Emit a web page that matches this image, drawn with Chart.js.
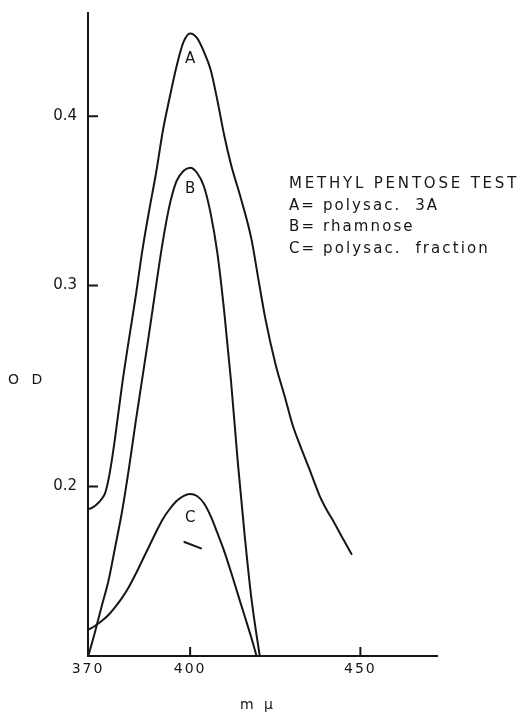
<!DOCTYPE html>
<html>
<head>
<meta charset="utf-8">
<title>Methyl pentose test</title>
<script src="https://cdn.jsdelivr.net/npm/chart.js@4.4.1/dist/chart.umd.min.js"></script>
<style>
  html, body { margin: 0; padding: 0; background: #fff; }
  canvas { display: block; }
</style>
</head>
<body>
<canvas id="odChart" width="520" height="717"></canvas>
<script>
// wavelength (m\u03bc) and optical density
const waveA = [370, 371, 372, 373, 374, 375, 376, 377, 378, 380, 382, 384, 386, 388, 390, 392, 394, 396, 398, 400,
               402, 404, 406, 408, 410, 412, 415, 418, 420, 422, 425, 428, 430, 432, 435, 438, 440, 442, 445, 447.4];
const odA = [0.190, 0.1905, 0.1914, 0.1927, 0.1945, 0.197, 0.203, 0.212, 0.223, 0.248, 0.271, 0.294, 0.320, 0.343, 0.365, 0.391, 0.412, 0.432, 0.448, 0.454,
             0.451, 0.442, 0.430, 0.410, 0.388, 0.370, 0.349, 0.326, 0.304, 0.283, 0.259, 0.241, 0.229, 0.220, 0.208, 0.196, 0.190, 0.185, 0.177, 0.171];

const waveB = [370, 372, 374, 376, 378, 380, 382, 384, 386, 388, 390, 392, 394, 396, 398, 400,
               402, 404, 406, 408, 410, 412, 414, 416, 418, 420, 420.5];
const odB = [0.131, 0.140, 0.150, 0.160, 0.174, 0.189, 0.208, 0.230, 0.252, 0.275, 0.300, 0.325, 0.346, 0.360, 0.366, 0.368,
             0.365, 0.357, 0.341, 0.318, 0.286, 0.250, 0.211, 0.179, 0.153, 0.135, 0.131];

const waveC = [370, 372, 374, 376, 378, 380, 382, 384, 386, 388, 390, 392, 394, 396, 398, 400,
               402, 404, 406, 408, 410, 412, 414, 416, 418, 419.5];
const odC = [0.141, 0.1425, 0.1444, 0.1467, 0.1498, 0.1533, 0.1576, 0.1628, 0.1685, 0.1743, 0.1802, 0.1858, 0.1901, 0.1936, 0.1958, 0.1967,
             0.1958, 0.1927, 0.1871, 0.1798, 0.1722, 0.1636, 0.1548, 0.1463, 0.1380, 0.1314];

// short pointer stroke under the C label
const waveLeader = [398.3, 403.2];
const odLeader = [0.176, 0.1733];

const xTicks = [370, 400, 450];
const yTicks = [0.2, 0.3, 0.4];

const curveNames = ['A', 'B', 'C'];
const curveLabelOD = [0.437, 0.355, 0.186];
const legendLines = ['METHYL PENTOSE TEST', 'A= polysac.  3A', 'B= rhamnose', 'C= polysac.  fraction'];

const ink = '#161616';
const fontFamily = '"DejaVu Sans", sans-serif';

function pts(xs, ys) {
    return xs.map((x, i) => ({ x: x, y: ys[i] }));
}

// the OD axis of the original is spaced like a square-root scale
class SqrtScale extends Chart.LinearScale {
    static id = 'sqrt';
    static defaults = Chart.LinearScale.defaults;

    getPixelForValue(value) {
        const lo = Math.sqrt(this.min), hi = Math.sqrt(this.max);
        return this.getPixelForDecimal((Math.sqrt(Math.max(value, 0)) - lo) / (hi - lo));
    }

    getValueForPixel(pixel) {
        const lo = Math.sqrt(this.min), hi = Math.sqrt(this.max);
        const s = lo + this.getDecimalForPixel(pixel) * (hi - lo);
        return s * s;
    }

    drawLabels(chartArea) {
        this.ctx.save();
        this.ctx.letterSpacing = '0px';
        super.drawLabels(chartArea);
        this.ctx.restore();
    }
}
Chart.register(SqrtScale);

const paperText = {
    id: 'paperText',
    beforeDraw(chart) {
        // wide lettering for the wavelength labels
        chart.ctx.letterSpacing = '2px';
    },
    afterDraw(chart) {
        const ctx = chart.ctx;
        const xs = chart.scales.x, ys = chart.scales.y;
        ctx.save();
        ctx.strokeStyle = ink;
        ctx.fillStyle = ink;
        ctx.lineWidth = 2;

        // tick marks point into the plot
        ctx.beginPath();
        yTicks.forEach(v => {
            const py = ys.getPixelForValue(v);
            ctx.moveTo(xs.left, py);
            ctx.lineTo(xs.left + 10, py);
        });
        xTicks.forEach(v => {
            if (v === xs.min) return;
            const px = xs.getPixelForValue(v);
            ctx.moveTo(px, ys.bottom);
            ctx.lineTo(px, ys.bottom - 9);
        });
        ctx.stroke();

        // curve letters at the peaks
        ctx.letterSpacing = '0px';
        ctx.font = '15px ' + fontFamily;
        ctx.textAlign = 'center';
        ctx.textBaseline = 'middle';
        curveNames.forEach((name, i) => {
            ctx.fillText(name, xs.getPixelForValue(400), ys.getPixelForValue(curveLabelOD[i]));
        });

        // key block
        ctx.textAlign = 'left';
        ctx.textBaseline = 'alphabetic';
        legendLines.forEach((line, i) => {
            ctx.letterSpacing = i === 0 ? '2.8px' : '2.1px';
            ctx.fillText(line, 289, 188 + i * 21.7);
        });

        // axis titles
        ctx.font = '14px ' + fontFamily;
        ctx.letterSpacing = '4px';
        ctx.textBaseline = 'middle';
        ctx.fillText('O D', 8, 380);
        ctx.letterSpacing = '3px';
        ctx.fillText('m \u03bc', 240, 705);
        ctx.restore();
    }
};

const lineStyle = {
    borderColor: ink,
    borderWidth: 2,
    pointRadius: 0,
    fill: false,
    cubicInterpolationMode: 'monotone',
    borderCapStyle: 'round',
    borderJoinStyle: 'round'
};

new Chart(document.getElementById('odChart'), {
    type: 'line',
    data: {
        datasets: [
            Object.assign({ label: 'A', data: pts(waveA, odA) }, lineStyle),
            Object.assign({ label: 'B', data: pts(waveB, odB) }, lineStyle),
            Object.assign({ label: 'C', data: pts(waveC, odC) }, lineStyle),
            Object.assign({ label: 'C pointer', data: pts(waveLeader, odLeader) }, lineStyle, { cubicInterpolationMode: 'default', tension: 0 })
        ]
    },
    options: {
        responsive: false,
        animation: false,
        layout: { padding: { top: 13, right: 83, bottom: 0, left: 0 } },
        plugins: {
            legend: { display: false },
            tooltip: { enabled: false }
        },
        scales: {
            x: {
                type: 'linear',
                min: 370,
                max: 472.5,
                bounds: 'data',
                grid: { display: false, drawTicks: false, tickLength: 0 },
                border: { display: true, color: ink, width: 2 },
                ticks: {
                    color: ink,
                    padding: 5,
                    maxRotation: 0,
                    font: { family: fontFamily, size: 14 },
                    callback: v => String(v)
                },
                afterBuildTicks: s => { s.ticks = xTicks.map(v => ({ value: v })); },
                afterFit: s => { s.height = 61; s.paddingLeft = 0; s.paddingRight = 0; }
            },
            y: {
                type: 'sqrt',
                min: 0.1314,
                max: 0.4679,
                bounds: 'data',
                grid: { display: false, drawTicks: false, tickLength: 0 },
                border: { display: true, color: ink, width: 2 },
                ticks: {
                    color: ink,
                    padding: 11,
                    font: { family: fontFamily, size: 15 },
                    callback: v => v.toFixed(1)
                },
                afterBuildTicks: s => { s.ticks = yTicks.map(v => ({ value: v })); },
                afterFit: s => { s.width = 88; s.paddingTop = 0; s.paddingBottom = 0; }
            }
        }
    },
    plugins: [paperText]
});
</script>
</body>
</html>
